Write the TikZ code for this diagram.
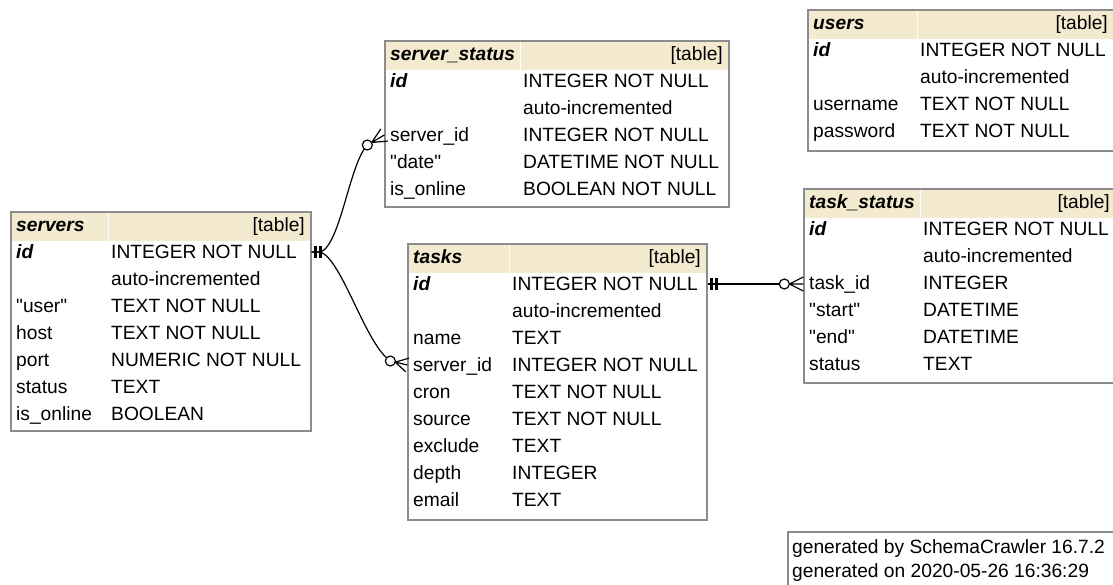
\documentclass[tikz,border=0pt]{standalone}
\usepackage{fontspec}
\setmainfont{Liberation Sans}[Ligatures=TeXOff]
\usetikzlibrary{calc}
\usetikzlibrary{fit}

\definecolor{headerBg}{RGB}{243,234,207}
\definecolor{frameGray}{RGB}{140,140,140}

\newcommand{\dbTable}[8]{%%
  %% #1 node name, #2 title, #3 left, #4 top, #5 right, #6 bottom,
  %% #7 offset of the type column, #8 list of column/type pairs.
  %% The header band, cut in two cells.
  \fill[headerBg] ({#3+1},{#4+1}) rectangle ({#3+#7-3},{#4+29});
  \fill[headerBg] ({#3+#7-2},{#4+1}) rectangle ({#5-1},{#4+29});
  \node[titleText] (#1-title) at ({#3+5},{#4+19}) {#2};
  \node[kindText] (#1-kind) at ({#5-6},{#4+19}) {[table]};
  %% One line for every column.
  \foreach \colName/\colType [count=\i] in {#8} {
    \node[cellText] (#1-\i) at ({#3+5},{#4+19+27*\i}) {\colName};
    \node[cellText] (#1-\i-type) at ({#3+#7},{#4+19+27*\i}) {\colType};
  }
  %% The frame round the table.
  \node[tableFrame,fit={({#3},{#4}) ({#5},{#6})}] (#1) {};
}
\newcommand{\exactlyOne}[1]{%%
  %% Two bars next to the key column.
  \draw[oneBar] ($(#1)+(4,-6)$) -- ($(#1)+(4,6)$);
  \draw[oneBar] ($(#1)+(9,-6)$) -- ($(#1)+(9,6)$);
}
\newcommand{\zeroOrMany}[2]{%%
  %% Crow's foot from the ring (#1) to the table edge (#2).
  \draw[relLine] ($(#1)!5pt!(#2)$) -- ($(#2)!7pt!90:(#1)$)
    ($(#1)!5pt!(#2)$) -- (#2)
    ($(#1)!5pt!(#2)$) -- ($(#2)!7pt!-90:(#1)$);
  \draw[openRing] (#1) circle (5pt);
}

\begin{document}
\begin{tikzpicture}[%%
  x=1pt,y=-1pt,%%
  cellText/.style={anchor=base west,inner sep=0pt,text height=12pt,text depth=0pt,font=\fontsize{19.2}{23}\selectfont},%%
  titleText/.style={cellText,font=\fontsize{19.2}{23}\selectfont\bfseries\itshape},%%
  kindText/.style={cellText,anchor=base east},%%
  tableFrame/.style={draw=frameGray,line width=1.3pt,inner sep=0pt},%%
  relLine/.style={line width=1.2pt,black},%%
  oneBar/.style={line width=2.4pt,black},%%
  openRing/.style={draw=black,fill=white,line width=1.2pt},%%
]
\useasboundingbox (0,0) rectangle (1113,584);
\clip (0,0) rectangle (1113,584);
%%
%% The tables.
\dbTable{servers}{servers}{11}{212}{311}{431}{100}{%%
  {\bfseries\itshape id}/INTEGER NOT NULL, /auto-incremented, "user"/TEXT NOT NULL,
  host/TEXT NOT NULL, port/NUMERIC NOT NULL, status/TEXT, is\_online/BOOLEAN}
\dbTable{serverStatus}{server\_status}{385}{41}{729}{207}{138}{%%
  {\bfseries\itshape id}/INTEGER NOT NULL, /auto-incremented, server\_id/INTEGER NOT NULL,
  "date"/DATETIME NOT NULL, is\_online/BOOLEAN NOT NULL}
\dbTable{tasks}{tasks}{408}{244}{707}{520}{104}{%%
  {\bfseries\itshape id}/INTEGER NOT NULL, /auto-incremented, name/TEXT,
  server\_id/INTEGER NOT NULL, cron/TEXT NOT NULL, source/TEXT NOT NULL,
  exclude/TEXT, depth/INTEGER, email/TEXT}
\dbTable{taskStatus}{task\_status}{804}{189}{1116}{383}{119}{%%
  {\bfseries\itshape id}/INTEGER NOT NULL, /auto-incremented, task\_id/INTEGER,
  "start"/DATETIME, "end"/DATETIME, status/TEXT}
\dbTable{users}{users}{808}{10}{1114}{151}{112}{%%
  {\bfseries\itshape id}/INTEGER NOT NULL, /auto-incremented,
  username/TEXT NOT NULL, password/TEXT NOT NULL}
%%
%% The footer.
\node[cellText] (genBy) at (792,553) {generated by SchemaCrawler 16.7.2};
\node[cellText] (genOn) at (792,577) {generated on 2020-05-26 16:36:29};
\node[tableFrame,fit={(788,532) (1120,600)}] (footer) {};
%%
%% Ends of the relations.
\coordinate (srvKey) at (servers.east |- servers-1.center);
\coordinate (statusFk) at (serverStatus.west |- serverStatus-3.center);
\coordinate (taskFk) at (tasks.west |- tasks-4.center);
\coordinate (taskKey) at (tasks.east |- tasks-1.center);
\coordinate (taskStatusFk) at (taskStatus.west |- taskKey);
\coordinate (statusRing) at ($(statusFk)+(-17,10)$);
\coordinate (taskRing) at ($(taskFk)+(-17,-4)$);
\coordinate (taskStatusRing) at ($(taskStatusFk)+(-19,0)$);
%%
%% The relations.
\draw[relLine] (srvKey) -- ++(9,0) .. controls +(20,-8) and +(-18,19) .. (statusRing);
\draw[relLine] (srvKey) -- ++(9,0) .. controls +(22,9) and +(-25,-17) .. (taskRing);
\draw[relLine] (taskKey) -- (taskStatusRing);
\exactlyOne{srvKey}
\exactlyOne{taskKey}
\zeroOrMany{statusRing}{statusFk}
\zeroOrMany{taskRing}{taskFk}
\zeroOrMany{taskStatusRing}{taskStatusFk}
\end{tikzpicture}
\end{document}
